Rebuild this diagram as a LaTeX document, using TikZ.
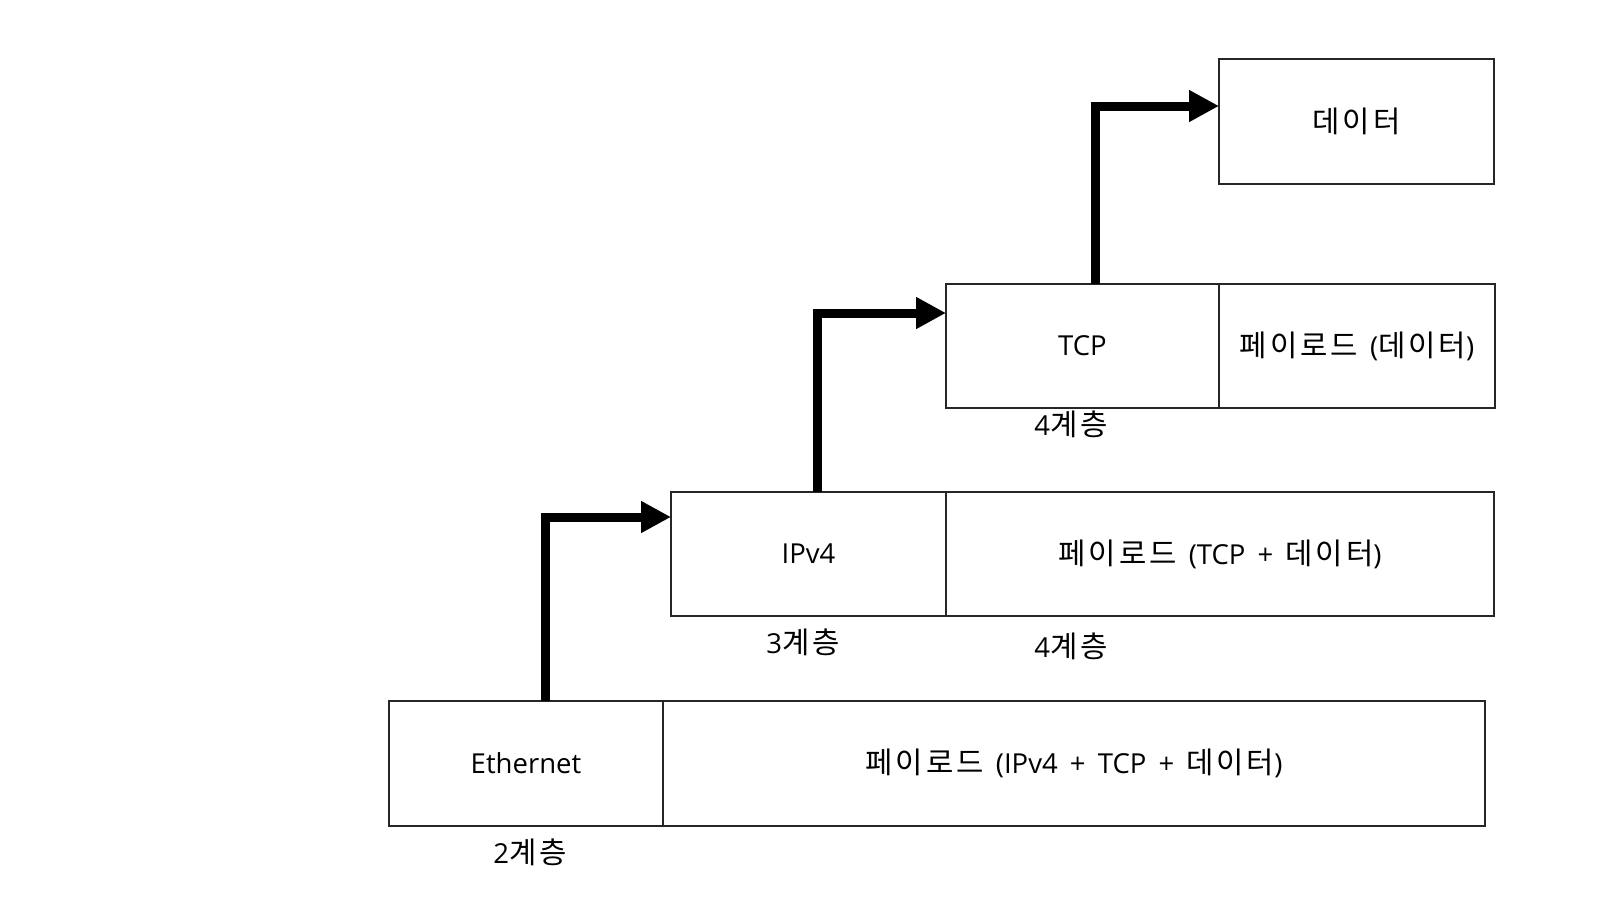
\documentclass[tikz,border=0pt]{standalone}
\usepackage{fontspec}
\setmainfont[WordSpace=1.7]{Open Sans}
\newfontfamily\krfont[LetterSpace=10,Scale=1.08]{Noto Sans CJK KR}
\newcommand\kr[1]{{\krfont #1}}
\usetikzlibrary{arrows.meta}
\begin{document}
\begin{tikzpicture}[x=1pt,y=-1pt,
  cell/.style={draw=black!85,line width=1.3pt,anchor=north west,inner sep=0pt,outer sep=0pt,
    font=\fontsize{27.5}{32}\selectfont},
  lbl/.style={inner sep=0pt,font=\fontsize{27.5}{32}\selectfont},
  bigarrow/.style={line width=9pt,line join=miter,line cap=butt,
    -{Triangle[length=30pt,width=30pt]}}]
\useasboundingbox (0,0) rectangle (1600,900);
% layer 2
\node[cell,minimum width=274pt,minimum height=125pt] (eth) at (389,701) {Ethernet};
\node[cell,minimum width=822pt,minimum height=125pt] (ethpay) at (663,701) {\kr{페이로드} (IPv4 + TCP + \kr{데이터})};
% layer 3
\node[cell,minimum width=275pt,minimum height=124pt] (ip) at (671,492) {IPv4};
\node[cell,minimum width=548pt,minimum height=124pt] (ippay) at (946,492) {\kr{페이로드} (TCP + \kr{데이터})};
% layer 4
\node[cell,minimum width=273pt,minimum height=124pt] (tcp) at (946,284) {TCP};
\node[cell,minimum width=276pt,minimum height=124pt] (tcppay) at (1219,284) {\kr{페이로드} (\kr{데이터})};
% data
\node[cell,minimum width=275pt,minimum height=125pt] (data) at (1219,59) {\kr{데이터}};
% labels
\node[lbl] (l2) at (530,852) {2\kr{계층}};
\node[lbl] (l3) at (803,642) {3\kr{계층}};
\node[lbl] (l4a) at (1071,646) {4\kr{계층}};
\node[lbl] (l4b) at (1071,424) {4\kr{계층}};
% arrows
\draw[bigarrow] ([xshift=156pt]eth.north west) |- ([yshift=-25pt]ip.north west);
\draw[bigarrow] ([xshift=146pt]ip.north west) |- ([yshift=-29pt]tcp.north west);
\draw[bigarrow] ([xshift=149pt]tcp.north west) |- ([yshift=-47pt]data.north west);
\end{tikzpicture}
\end{document}
